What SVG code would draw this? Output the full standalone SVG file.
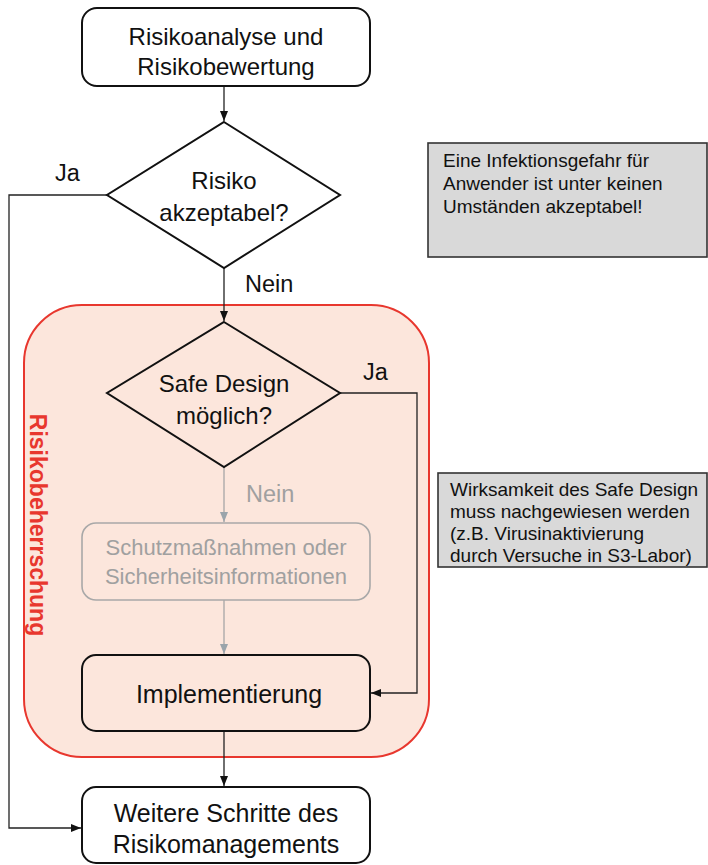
<svg xmlns="http://www.w3.org/2000/svg" width="708" height="865" viewBox="0 0 708 865">
<style>
text{font-family:"Liberation Sans",Arial,sans-serif;fill:#111}
.box{fill:#fff;stroke:#111;stroke-width:2}
.inbox{fill:#fce6dc;stroke:#111;stroke-width:2}
.gbox{fill:#fce6dc;stroke:#a8a8a8;stroke-width:1.6}
.note{fill:#d9d9d9;stroke:#333;stroke-width:1.6}
.t{font-size:24px;text-anchor:middle}
.n{font-size:19px}
.lb{font-size:23.5px}
.gray{fill:#a0a0a0}
.ln{fill:none;stroke:#222;stroke-width:1.3}
.gln{fill:none;stroke:#a6a6a6;stroke-width:1.3}
</style>
<defs>
<marker id="ah" markerWidth="10" markerHeight="8" refX="10" refY="4" orient="auto" markerUnits="userSpaceOnUse"><path d="M0,0 L10,4 L0,8 Z" fill="#111"/></marker>
<marker id="gah" markerWidth="10" markerHeight="8" refX="10" refY="4" orient="auto" markerUnits="userSpaceOnUse"><path d="M0,0 L10,4 L0,8 Z" fill="#9aa4ab"/></marker>
</defs>
<rect width="708" height="865" fill="#fff"/>
<g id="region">
<rect x="24" y="305" width="405" height="452" rx="58" fill="#fce6dc" stroke="#e8372e" stroke-width="2"/>
<text transform="translate(30,525) rotate(90)" style="font-size:23px;font-weight:bold;fill:#e8372e;text-anchor:middle">Risikobeherrschung</text>
</g>
<g id="connectors">
<line class="ln" x1="224" y1="86" x2="224" y2="121" marker-end="url(#ah)"/>
<line class="ln" x1="224" y1="268" x2="224" y2="321" marker-end="url(#ah)"/>
<polyline class="ln" points="107,195 9,195 9,828 81,828" marker-end="url(#ah)"/>
<polyline class="ln" points="340,393 417,393 417,693 371,693" marker-end="url(#ah)"/>
<line class="gln" x1="224" y1="467" x2="224" y2="522" marker-end="url(#gah)"/>
<line class="gln" x1="224" y1="600" x2="224" y2="654" marker-end="url(#gah)"/>
<line class="ln" x1="224" y1="731" x2="224" y2="786" marker-end="url(#ah)"/>
<text class="lb" x="55" y="181">Ja</text>
<text class="lb" x="245" y="292">Nein</text>
<text class="lb" x="363" y="380">Ja</text>
<text class="lb gray" x="246" y="502">Nein</text>
</g>
<g id="start">
<rect class="box" x="82" y="8" width="288" height="78" rx="15"/>
<text class="t" x="226" y="45">Risikoanalyse und</text>
<text class="t" x="226" y="75">Risikobewertung</text>
</g>
<g id="d1">
<polygon points="224,122 340,195 224,268 107,195" fill="#fff" stroke="#111" stroke-width="2"/>
<text class="t" x="224" y="189">Risiko</text>
<text class="t" x="224" y="221">akzeptabel?</text>
</g>
<g id="d2">
<polygon points="224,322 340,393 224,467 107,393" fill="#fce6dc" stroke="#111" stroke-width="2"/>
<text class="t" x="224" y="392">Safe Design</text>
<text class="t" x="224" y="424">möglich?</text>
</g>
<g id="schutz">
<rect class="gbox" x="82" y="523" width="288" height="77" rx="14"/>
<text class="t gray" x="226" y="555" style="font-size:22px">Schutzmaßnahmen oder</text>
<text class="t gray" x="226" y="584" style="font-size:22px">Sicherheitsinformationen</text>
</g>
<g id="impl">
<rect class="inbox" x="82" y="655" width="288" height="76" rx="14"/>
<text class="t" x="229" y="703" style="font-size:25px">Implementierung</text>
</g>
<g id="weitere">
<rect class="box" x="82" y="787" width="288" height="76" rx="14"/>
<text class="t" x="226" y="822" style="font-size:25px">Weitere Schritte des</text>
<text class="t" x="226" y="853" style="font-size:25px">Risikomanagements</text>
</g>
<g id="note1">
<rect class="note" x="428" y="143" width="279" height="114"/>
<text class="n" x="443" y="167">Eine Infektionsgefahr für</text>
<text class="n" x="443" y="190">Anwender ist unter keinen</text>
<text class="n" x="443" y="213">Umständen akzeptabel!</text>
</g>
<g id="note2">
<rect class="note" x="438" y="473" width="269" height="94"/>
<text class="n" x="450" y="496">Wirksamkeit des Safe Design</text>
<text class="n" x="450" y="518">muss nachgewiesen werden</text>
<text class="n" x="450" y="540">(z.B. Virusinaktivierung</text>
<text class="n" x="450" y="562">durch Versuche in S3-Labor)</text>
</g>
</svg>
